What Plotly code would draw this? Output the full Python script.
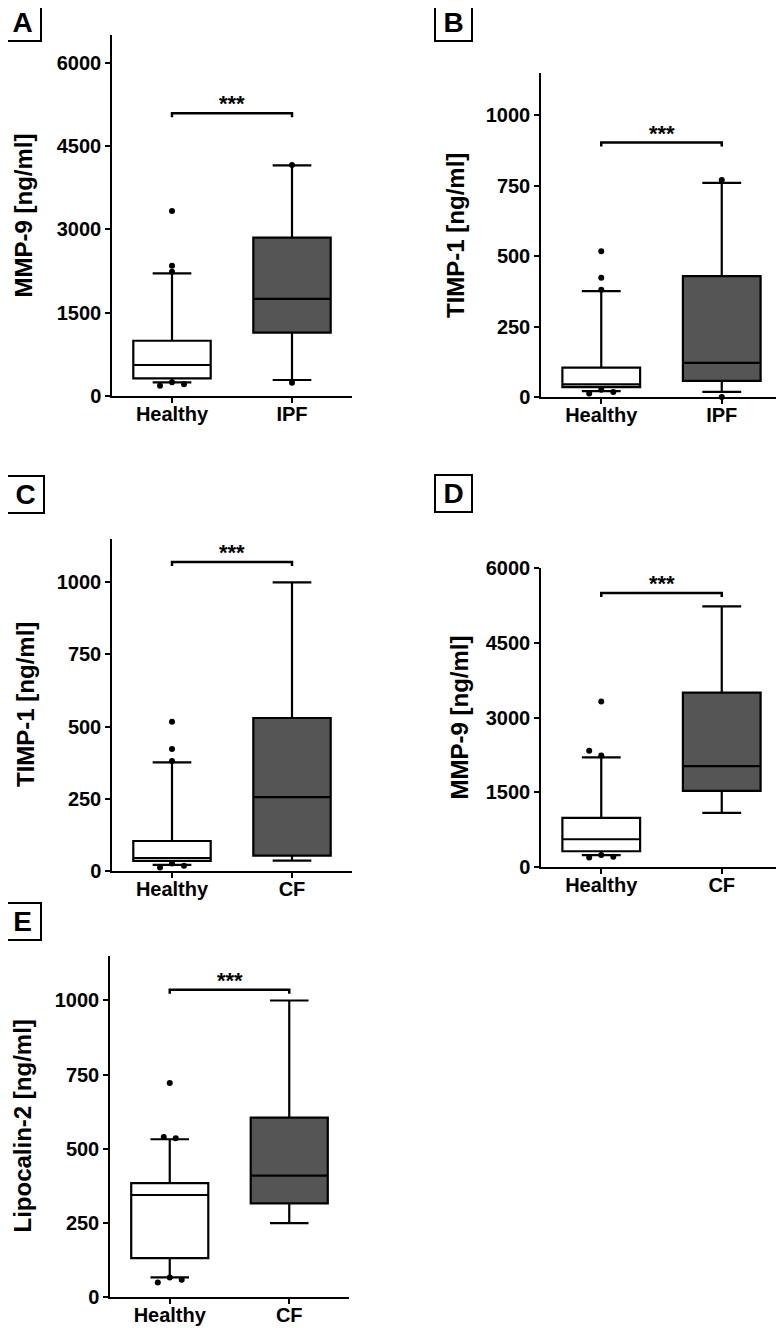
import plotly.graph_objects as go

PAGE_W, PAGE_H = 784, 1328
OFF = 8                              # default body margin of the html page
W, H = PAGE_W - OFF, PAGE_H - OFF
FONT = 'Liberation Sans, Arial, sans-serif'
DARK = '#555555'

# ---------------------------------------------------------------- data ----
# box stats per group: lower whisker, q1, median, q3, upper whisker
A_GROUPS = ['Healthy', 'IPF']
A_LOW = [246, 288]
A_Q1 = [318, 1140]
A_MED = [558, 1747]
A_Q3 = [995, 2850]
A_HIGH = [2209, 4153]
A_OUT_H = [3330, 2346, 2238, 185, 246, 210]
A_OUT_D = [4160, 240]

B_GROUPS = ['Healthy', 'IPF']
B_LOW = [21, 18]
B_Q1 = [35, 57]
B_MED = [45, 121]
B_Q3 = [104, 429]
B_HIGH = [376, 760]
B_OUT_H = [517, 423, 381, 12, 26, 18]
B_OUT_D = [770, 0]

C_GROUPS = ['Healthy', 'CF']
C_LOW = [21, 36]
C_Q1 = [35, 53]
C_MED = [45, 256]
C_Q3 = [104, 530]
C_HIGH = [376, 1000]
C_OUT_H = [517, 423, 381, 12, 26, 18]
C_OUT_D = []

D_GROUPS = ['Healthy', 'CF']
D_LOW = [240, 1086]
D_Q1 = [316, 1528]
D_MED = [557, 2025]
D_Q3 = [985, 3499]
D_HIGH = [2200, 5228]
D_OUT_H = [3320, 2335, 2235, 189, 240, 205]
D_OUT_D = []

E_GROUPS = ['Healthy', 'CF']
E_LOW = [66, 249]
E_Q1 = [131, 316]
E_MED = [344, 409]
E_Q3 = [384, 605]
E_HIGH = [532, 1000]
E_OUT_H = [540, 535, 722, 49, 66, 58]
E_OUT_D = []

# significance bracket heights (data units)
SIG_Y = [5090, 903, 1070, 5500, 1036]

# ------------------------------------------------------------- layout ----
# horizontal spread of overlapping outliers (category units)
DX_A = [0, 0, 0, -0.1, 0, 0.1]
DX_B = [0, 0, 0, -0.1, 0, 0.1]
DX_D = [0, -0.1, 0, -0.1, 0, 0.1]
DX_E = [-0.05, 0.05, 0, -0.1, 0, 0.1]

panels = [
    # px = plot area in page pixels (x0, x1, y0, y1); tx = y-title centre x; lab = letter box top-left
    dict(letter='A', title='MMP-9 [ng/ml]', groups=A_GROUPS,
         stats=(A_LOW, A_Q1, A_MED, A_Q3, A_HIGH), out=(A_OUT_H, A_OUT_D), dx=DX_A,
         yr=6500, dt=1500, px=(112, 352, 35, 396), tx=23, lab=(3, 3)),
    dict(letter='B', title='TIMP-1 [ng/ml]', groups=B_GROUPS,
         stats=(B_LOW, B_Q1, B_MED, B_Q3, B_HIGH), out=(B_OUT_H, B_OUT_D), dx=DX_B,
         yr=1150, dt=250, px=(541, 782, 73, 397), tx=455, lab=(434, 3)),
    dict(letter='C', title='TIMP-1 [ng/ml]', groups=C_GROUPS,
         stats=(C_LOW, C_Q1, C_MED, C_Q3, C_HIGH), out=(C_OUT_H, C_OUT_D), dx=DX_B,
         yr=1150, dt=250, px=(112, 352, 539, 871), tx=25, lab=(6, 475)),
    dict(letter='D', title='MMP-9 [ng/ml]', groups=D_GROUPS,
         stats=(D_LOW, D_Q1, D_MED, D_Q3, D_HIGH), out=(D_OUT_H, D_OUT_D), dx=DX_D,
         yr=6000, dt=1500, px=(541, 782, 568, 867), tx=459, lab=(434, 474)),
    dict(letter='E', title='Lipocalin-2 [ng/ml]', groups=E_GROUPS,
         stats=(E_LOW, E_Q1, E_MED, E_Q3, E_HIGH), out=(E_OUT_H, E_OUT_D), dx=DX_E,
         yr=1150, dt=250, px=(110, 349, 956, 1297), tx=22, lab=(3, 902)),
]


def px_x(v):
    return (v - OFF) / W


def px_y(v):
    return 1 - (v - OFF) / H


fig = go.Figure()
tick_font = dict(family=FONT, size=20, color='black', weight='bold')

for i, p in enumerate(panels):
    n = '' if i == 0 else str(i + 1)
    xa, ya = 'x' + n, 'y' + n
    x0, x1, y0, y1 = p['px']
    low, q1, med, q3, high = p['stats']
    for g in range(2):
        fig.add_trace(go.Box(
            x=[g], lowerfence=[low[g]], q1=[q1[g]], median=[med[g]], q3=[q3[g]],
            upperfence=[high[g]], width=0.645, whiskerwidth=0.5, boxpoints=False,
            fillcolor='white' if g == 0 else DARK, line=dict(color='black', width=2.2),
            xaxis=xa, yaxis=ya, showlegend=False, hoverinfo='skip'))
    out_h, out_d = p['out']
    xs = list(p['dx'][:len(out_h)]) + [1] * len(out_d)
    fig.add_trace(go.Scatter(
        x=xs, y=list(out_h) + list(out_d), mode='markers', cliponaxis=False,
        marker=dict(color='black', size=6), xaxis=xa, yaxis=ya, showlegend=False))

    fig.layout['xaxis' + n] = dict(
        domain=[px_x(x0), px_x(x1)], anchor=ya, range=[-0.5, 1.5], tickvals=[0, 1],
        ticktext=p['groups'], automargin=False, ticklabelstandoff=-6,
        showgrid=False, zeroline=False, showline=True, linecolor='black', linewidth=1.5,
        ticks='outside', ticklen=5, tickwidth=1.5, tickcolor='black',
        tickfont=dict(family=FONT, size=20, color='black', weight='bold'))
    fig.layout['yaxis' + n] = dict(
        domain=[px_y(y1), px_y(y0)], anchor=xa, range=[0, p['yr']], dtick=p['dt'], tick0=0,
        automargin=False,
        showgrid=False, zeroline=False, showline=True, linecolor='black', linewidth=1.5,
        ticks='outside', ticklen=5, tickwidth=1.5, tickcolor='black', tickfont=tick_font)

    # significance bracket
    sy = SIG_Y[i]
    drop = 4 * p['yr'] / (y1 - y0)
    fig.add_shape(type='path', xref=xa, yref=ya,
                  path=f'M 0,{sy - drop} L 0,{sy} L 1,{sy} L 1,{sy - drop}',
                  line=dict(color='black', width=2.5))
    fig.add_annotation(x=0.5, y=sy, xref=xa, yref=ya, text='***', showarrow=False,
                       yanchor='bottom', yshift=-5,
                       font=dict(family=FONT, size=22, color='black', weight='bold'))

    # y-axis title
    fig.add_annotation(x=px_x(p['tx']), y=px_y((y0 + y1) / 2), xref='paper', yref='paper',
                       text=p['title'], textangle=-90, showarrow=False,
                       xanchor='center', yanchor='middle',
                       font=dict(family=FONT, size=24, color='black', weight='bold'))

    # panel letter
    lx, ly = p['lab']
    fig.add_annotation(x=px_x(lx), y=px_y(ly), xref='paper', yref='paper',
                       text=p['letter'], showarrow=False, xanchor='left', yanchor='top',
                       width=33, height=33, borderpad=1, bordercolor='black', borderwidth=2,
                       font=dict(family=FONT, size=28, color='black', weight='bold'))

fig.update_layout(width=W, height=H,
                  margin=dict(l=0, r=0, t=0, b=0, pad=0, autoexpand=False),
                  paper_bgcolor='white', plot_bgcolor='white', boxmode='overlay',
                  showlegend=False)

fig.write_html('out.html')
